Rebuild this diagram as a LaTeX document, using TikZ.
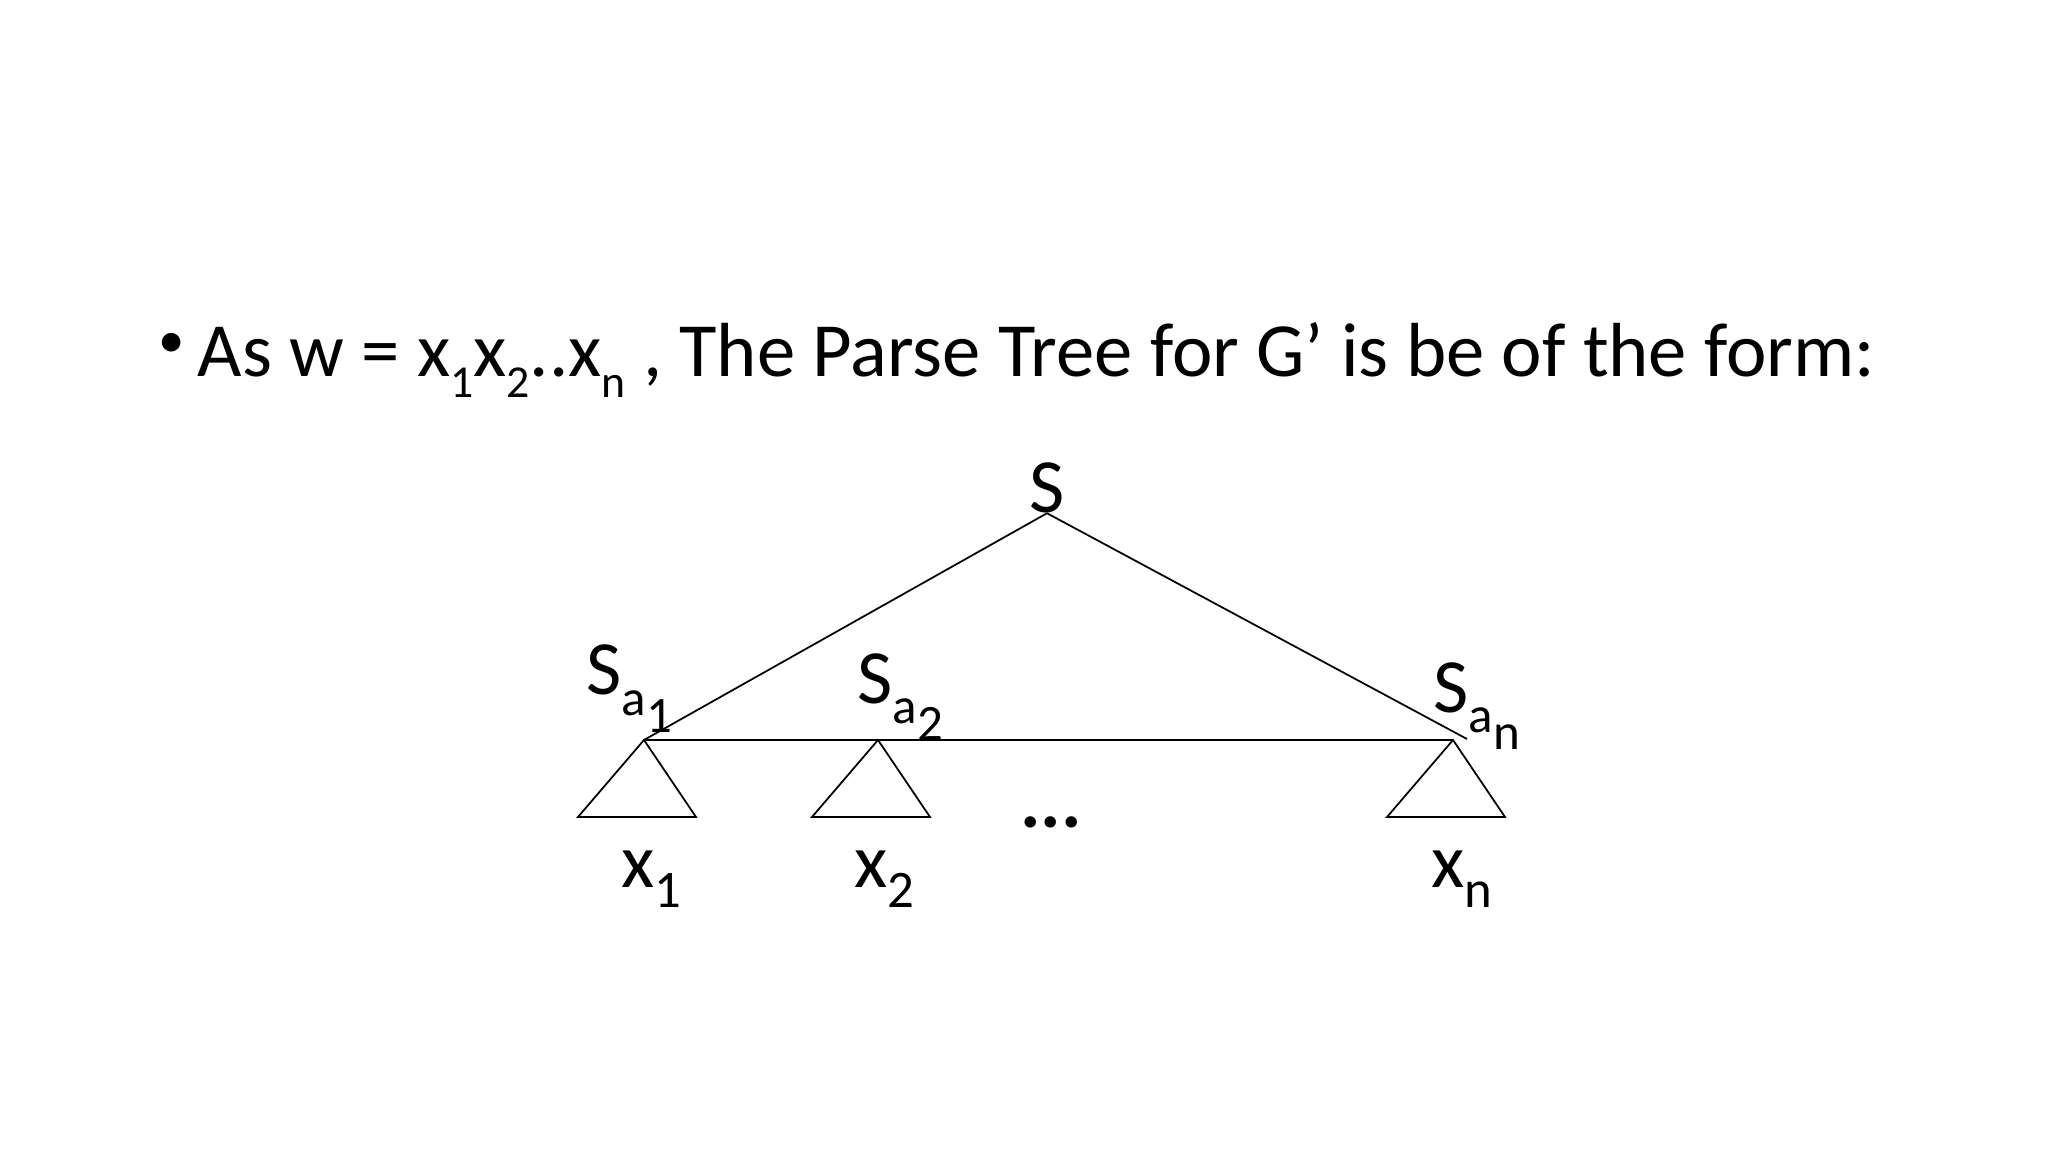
\documentclass[tikz,border=0pt]{standalone}
\usepackage{fontspec}
\setmainfont{Carlito}
\usepackage{tikz}
\newcommand{\lo}[2][13]{\raisebox{-5.7pt}{\fontsize{#1}{#1}\selectfont #2}}
\tikzset{
  edge/.style={black, line width=.5pt},
  lbl/.style={inner sep=0pt, anchor=base west, font=\fontsize{21.8}{25}\selectfont}
}

\begin{document}
\begin{tikzpicture}[x=0.01cm, y=-0.01cm]
            \path[use as bounding box] (0,0) rectangle (2048,1152);
            \coordinate (A1)   at (644,740);
            \coordinate (A2)   at (878,740);
            \coordinate (An)   at (1453,740);
            \coordinate (AnTip) at (1467,739);

            \node[lbl, anchor=center, font=\fontsize{15}{15}\selectfont] (dot) at (172,345) {•};% bullet
            \node[lbl] (title) at (197,377) {As w = x\lo{1}x\lo{2}..x\lo{n} , The Parse Tree for G’ is be of the form:};

            \node[lbl, anchor=base] (S) at (1047,512) {S};
            \node[lbl] (Sa1) at (586,695) {S\lo[14.5]{a\raisebox{-5pt}{1}}};
            \node[lbl] (Sa2) at (857,703) {S\lo[14.5]{a\raisebox{-5pt}{2}}};
            \node[lbl] (San) at (1433,712) {S\lo[14.5]{a\raisebox{-5pt}{n}}};

            \draw[edge] (S.south) -- (A1);
            \draw[edge] (S.south) -- (AnTip);
            \draw[edge] (A1) -- (An);% row of subtrees
            \foreach \t in {A1,A2,An}
              \draw[edge] (\t) -- ++(-66,77) -- ++(118,0) -- cycle;

            \node[lbl, anchor=base] (dots) at (1051,827) {\textbf{...}};
            \node[lbl] (x1) at (621,887) {x\lo[15]{1}};
            \node[lbl] (x2) at (854,887) {x\lo[15]{2}};
            \node[lbl] (xn) at (1431,887) {x\lo[15]{n}};
        \end{tikzpicture}
\end{document}
